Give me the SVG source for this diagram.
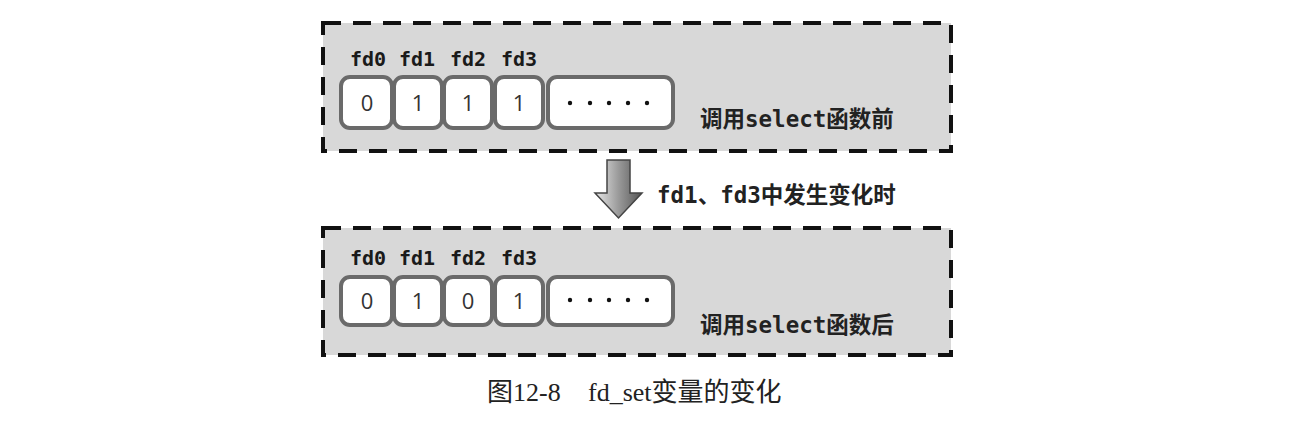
<svg xmlns="http://www.w3.org/2000/svg" width="1298" height="430" viewBox="0 0 1298 430">
<style>
.panel{fill:#d8d8d8;stroke:#111;stroke-width:4;stroke-dasharray:18 12}
.cell{fill:#fff;stroke:#6a6a6a;stroke-width:4}
.lbl{font-family:"DejaVu Sans Mono","Liberation Mono",monospace;font-weight:bold;font-size:20px;fill:#1a1a1a}
.dig{font-family:"Open Sans","Liberation Sans",sans-serif;font-size:22px;fill:#333;text-anchor:middle}
.note{font-family:"DejaVu Sans Mono","Noto Sans CJK SC",monospace;font-weight:bold;font-size:22.5px;fill:#222}
.cap{font-family:"Liberation Serif","Noto Sans CJK SC",serif;font-size:26px;fill:#222}
.dot{fill:#111}
</style>
<defs>
<linearGradient id="ag" x1="0" y1="0" x2="1" y2="0">
<stop offset="0" stop-color="#e8e8e8"/>
<stop offset="0.5" stop-color="#9a9a9a"/>
<stop offset="1" stop-color="#555"/>
</linearGradient>
</defs>
<rect width="1298" height="430" fill="#fff"/>

<g id="before">
<rect class="panel" x="323" y="23" width="628" height="128"/>
<text class="lbl" x="350" y="66">fd0</text>
<text class="lbl" x="399" y="66">fd1</text>
<text class="lbl" x="450" y="66">fd2</text>
<text class="lbl" x="501" y="66">fd3</text>
<rect class="cell" x="341" y="77" width="51" height="51" rx="9"/>
<rect class="cell" x="394" y="77" width="48" height="51" rx="9"/>
<rect class="cell" x="444" y="77" width="48" height="51" rx="9"/>
<rect class="cell" x="495" y="77" width="48" height="51" rx="9" fill="#f4f4f4"/>
<rect class="cell" x="548" y="77" width="125" height="51" rx="9"/>
<text class="dig" x="367" y="111">0</text>
<text class="dig" x="418" y="111">1</text>
<text class="dig" x="468" y="111">1</text>
<text class="dig" x="519" y="111">1</text>
<circle class="dot" cx="570" cy="103" r="2.2"/>
<circle class="dot" cx="590" cy="103" r="2.2"/>
<circle class="dot" cx="609" cy="103" r="2.2"/>
<circle class="dot" cx="628" cy="103" r="2.2"/>
<circle class="dot" cx="647" cy="103" r="2.2"/>
<text class="note" x="700" y="127">调用select函数前</text>
</g>

<g id="connectors">
<path d="M607,160 H630 V193 H642 L618.5,218 L595,193 H607 Z" fill="url(#ag)" stroke="#444" stroke-width="1.5"/>
<text class="note" x="657" y="203">fd1、fd3中发生变化时</text>
</g>

<g id="after">
<rect class="panel" x="323" y="228" width="628" height="127"/>
<text class="lbl" x="350" y="265">fd0</text>
<text class="lbl" x="399" y="265">fd1</text>
<text class="lbl" x="450" y="265">fd2</text>
<text class="lbl" x="501" y="265">fd3</text>
<rect class="cell" x="341" y="277" width="51" height="48" rx="9"/>
<rect class="cell" x="394" y="277" width="48" height="48" rx="9"/>
<rect class="cell" x="444" y="277" width="48" height="48" rx="9"/>
<rect class="cell" x="495" y="277" width="48" height="48" rx="9" fill="#f0f0f0"/>
<rect class="cell" x="548" y="277" width="125" height="48" rx="9"/>
<text class="dig" x="367" y="309">0</text>
<text class="dig" x="418" y="309">1</text>
<text class="dig" x="468" y="309">0</text>
<text class="dig" x="519" y="309">1</text>
<circle class="dot" cx="570" cy="300" r="2.2"/>
<circle class="dot" cx="590" cy="300" r="2.2"/>
<circle class="dot" cx="609" cy="300" r="2.2"/>
<circle class="dot" cx="628" cy="300" r="2.2"/>
<circle class="dot" cx="647" cy="300" r="2.2"/>
<text class="note" x="700" y="333">调用select函数后</text>
</g>

<g id="caption">
<text class="cap" x="487" y="401">图12-8<tspan x="588">fd_set变量的变化</tspan></text>
</g>
</svg>
